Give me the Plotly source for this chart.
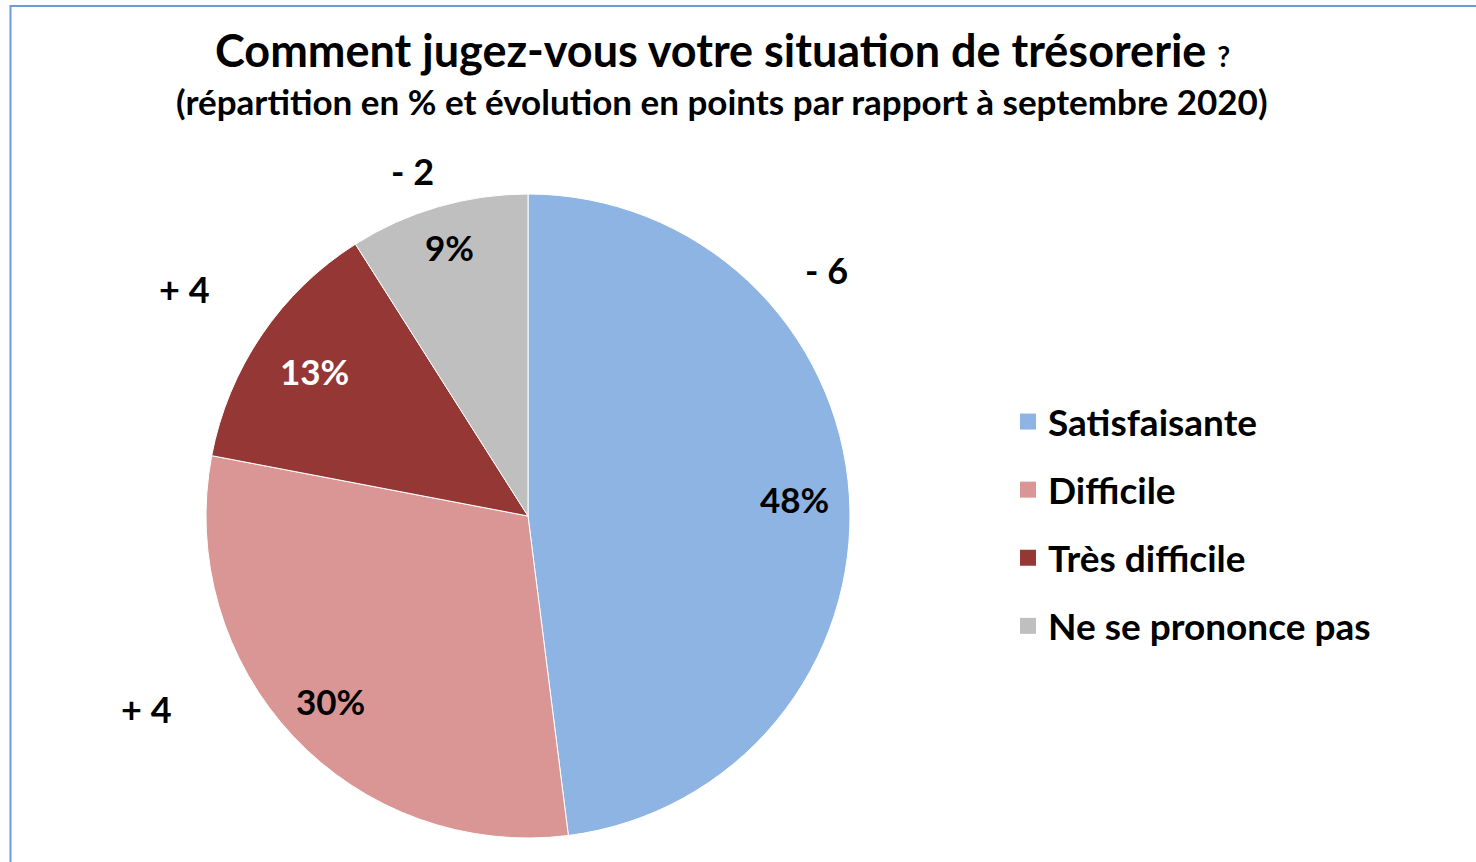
import math
import plotly.graph_objects as go

categories = ["Satisfaisante", "Difficile", "Très difficile", "Ne se prononce pas"]
values = [48, 30, 13, 9]
evolutions = ["- 6", "+ 4", "+ 4", "- 2"]
colors = ["#8EB4E3", "#D99694", "#953735", "#BFBFBF"]
pct_text_colors = ["black", "black", "white", "black"]

W, H = 1476, 862
CX, CY, R = 528, 516, 322   # pie centre / radius in pixels

def px(x):
    return x / W

def py(y):
    return 1 - y / H

fig = go.Figure()
fig.add_trace(go.Pie(
    labels=categories, values=values, sort=False, direction="clockwise", rotation=0,
    marker=dict(colors=colors, line=dict(color="white", width=1)),
    textinfo="none", hoverinfo="label+percent", showlegend=False,
    domain=dict(x=[px(CX - R), px(CX + R)], y=[py(CY + R), py(CY - R)]),
))

# legend entries
for cat, col in zip(categories, colors):
    fig.add_trace(go.Scatter(
        x=[None], y=[None], mode="markers", name=f"<b>{cat}</b>", legendgroup=cat,
        marker=dict(symbol="square", size=22, color=col), showlegend=True,
    ))

annotations = []
# percentage labels placed at slice mid-angles
cum = 0
label_r = [0.83, 0.84, 0.80, 0.87]
for v, col, rf in zip(values, pct_text_colors, label_r):
    mid = cum + v / 2
    ang = math.radians(90 - 360 * mid / sum(values))
    x = CX + rf * R * math.cos(ang)
    y = CY - rf * R * math.sin(ang)
    annotations.append(dict(x=px(x), y=py(y), xref="paper", yref="paper",
                            xanchor="center", yanchor="middle",
                            text=f"<b>{v}%</b>", showarrow=False,
                            font=dict(family="Lato", size=35, color=col)))
    cum += v

# evolution labels
evo_pos = [(826, 270), (146, 709), (185, 289), (412, 171)]
for t, (x, y) in zip(evolutions, evo_pos):
    annotations.append(dict(x=px(x), y=py(y), xref="paper", yref="paper",
                            xanchor="center", yanchor="middle",
                            text=f"<b>{t}</b>", showarrow=False,
                            font=dict(family="Lato", size=36, color="black")))

annotations.append(dict(x=px(722), y=py(50), xref="paper", yref="paper", showarrow=False,
                        xanchor="center", yanchor="middle",
                        text="<b>Comment jugez-vous votre situation de trésorerie <span style='font-size:28px'>?</span></b>",
                        font=dict(family="Lato", size=45, color="black")))
annotations.append(dict(x=px(722), y=py(101), xref="paper", yref="paper", showarrow=False,
                        xanchor="center", yanchor="middle",
                        text="<b>(répartition en % et évolution en points par rapport à septembre 2020)</b>",
                        font=dict(family="Lato", size=35, color="black")))

fig.update_layout(
    width=W, height=H, margin=dict(l=0, r=0, t=0, b=0),
    paper_bgcolor="white", plot_bgcolor="white",
    xaxis=dict(visible=False), yaxis=dict(visible=False),
    annotations=annotations,
    legend=dict(x=px(1008), y=py(524), xanchor="left", yanchor="middle",
                font=dict(family="Lato", size=37, color="black"),
                tracegroupgap=17, itemsizing="trace"),
    shapes=[dict(type="rect", xref="paper", yref="paper",
                 x0=px(10.5), x1=1.05, y0=-0.05, y1=py(6),
                 line=dict(color="#6A9BDB", width=2), fillcolor="rgba(0,0,0,0)")],
)

fig.write_html("out.html", config={"displayModeBar": False},
               post_script="document.body.style.margin='0';document.body.style.overflow='hidden';")
